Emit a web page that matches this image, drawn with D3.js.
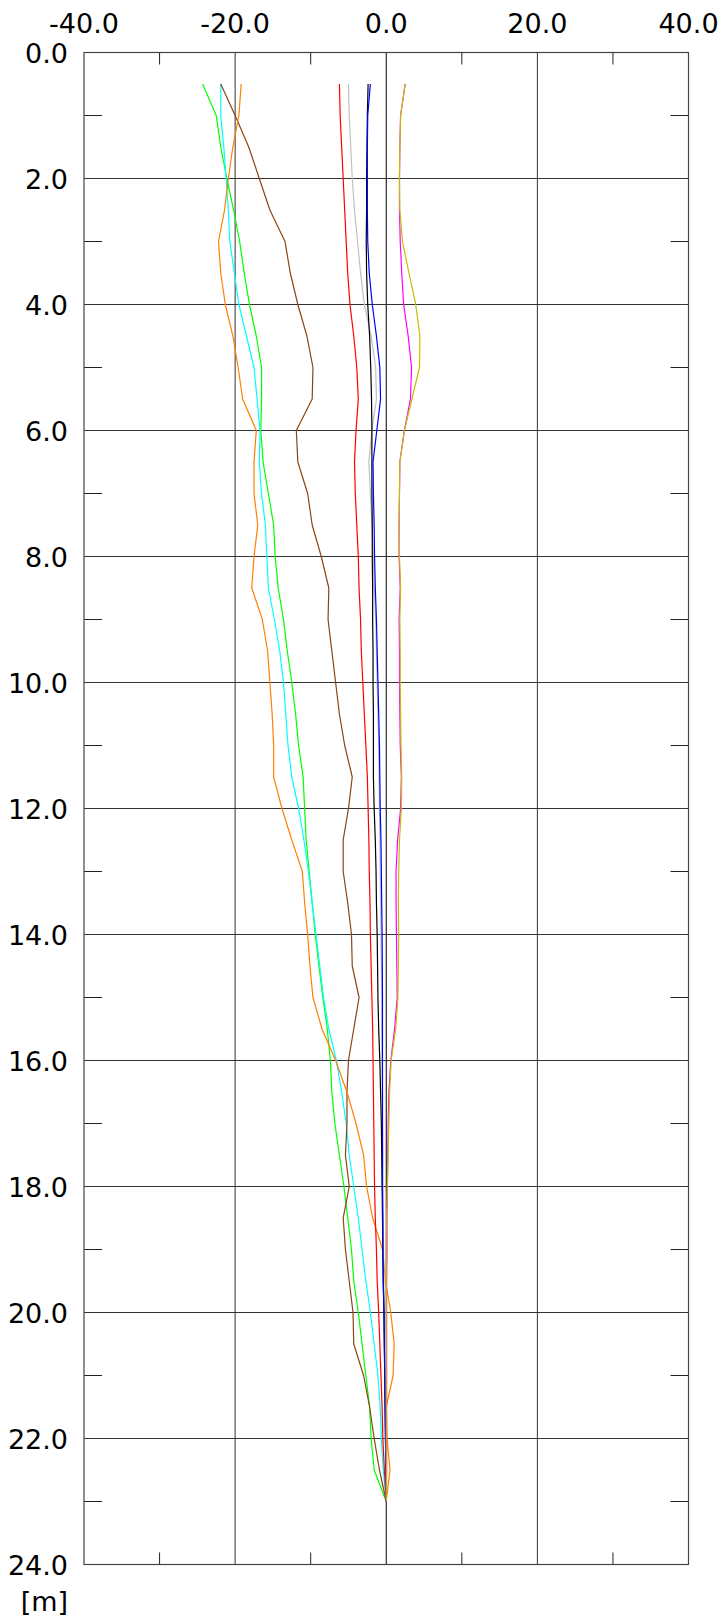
<!DOCTYPE html>
<html>
<head>
<meta charset="utf-8">
<script src="https://cdn.jsdelivr.net/npm/d3@7"></script>
<style>
  html, body { margin: 0; padding: 0; background: #fff; }
  svg { display: block; }
</style>
</head>
<body>
<svg id="chart" width="720" height="1619"></svg>
<script>
// ---- data ----
const depths = [0.5, 1.0, 1.5, 2.0, 2.5, 3.0, 3.5, 4.0, 4.5, 5.0, 5.5, 6.0, 6.5, 7.0, 7.5, 8.0,
  8.5, 9.0, 9.5, 10.0, 10.5, 11.0, 11.5, 12.0, 12.5, 13.0, 13.5, 14.0, 14.5, 15.0, 15.5, 16.0,
  16.5, 17.0, 17.5, 18.0, 18.5, 19.0, 19.5, 20.0, 20.5, 21.0, 21.5, 22.0, 22.5, 23.0];

const greenValues = [-24.3, -22.5, -21.9, -21.1, -20.2, -19.4, -18.8, -18.1, -17.2, -16.5, -16.5, -16.6,
  -16.3, -15.6, -14.9, -14.7, -14.3, -13.6, -13.1, -12.5, -12.0, -11.6, -11.0, -10.8, -10.6, -10.2,
  -9.8, -9.4, -8.9, -8.4, -7.8, -7.4, -7.2, -6.8, -6.2, -5.6, -5.1, -4.6, -4.3, -3.7, -3.2, -2.7,
  -2.2, -2.0, -1.6, 0.0];
const cyanValues = [-21.9, -21.9, -21.5, -21.2, -20.9, -20.7, -20.1, -19.5, -18.5, -17.5, -17.1, -16.7,
  -16.8, -16.5, -16.0, -15.8, -15.6, -14.8, -14.1, -13.6, -13.3, -13.0, -12.5, -11.6, -10.9, -10.3,
  -9.8, -9.3, -8.8, -8.3, -7.6, -6.6, -5.9, -5.3, -4.9, -4.3, -3.7, -3.2, -2.7, -2.1, -1.6, -1.1,
  -0.8, -0.65, -0.4, 0.0];
const brownValues = [-21.9, -20.0, -18.2, -16.8, -15.4, -13.4, -12.7, -11.7, -10.5, -9.7, -9.8, -11.9,
  -11.7, -10.4, -9.8, -8.6, -7.6, -7.7, -7.2, -6.7, -6.2, -5.5, -4.5, -5.0, -5.7, -5.7,
  -5.1, -4.6, -4.5, -3.6, -4.3, -5.0, -5.2, -5.2, -5.4, -4.9, -5.7, -5.4, -4.9, -4.4, -4.3, -3.0,
  -2.2, -1.6, -0.9, 0.0];
const orangeValues = [-19.2, -19.5, -20.3, -20.9, -21.4, -22.2, -21.9, -21.3, -20.3, -19.6, -19.0, -17.2,
  -17.5, -17.5, -17.0, -17.5, -17.8, -16.4, -15.7, -15.4, -15.1, -14.9, -14.9, -13.8, -12.5, -11.1,
  -10.8, -10.4, -10.1, -9.7, -8.5, -6.7, -5.2, -4.0, -3.0, -2.6, -1.8, -0.5, -0.1, 0.6, 1.05, 0.9,
  0.0, 0.1, 0.5, 0.0];
const redValues = [-6.2, -6.1, -5.9, -5.7, -5.5, -5.3, -5.1, -4.8, -4.3, -3.9, -3.7, -4.0,
  -4.2, -4.1, -3.9, -3.7, -3.6, -3.4, -3.3, -3.1, -2.9, -2.7, -2.5, -2.4, -2.3, -2.25,
  -2.15, -2.1, -2.0, -1.9, -1.8, -1.75, -1.7, -1.65, -1.6, -1.55, -1.45, -1.3, -1.2, -1.0, -0.85, -0.7,
  -0.55, -0.45, -0.25, 0.0];
const grayValues = [-5.0, -4.9, -4.7, -4.5, -4.2, -3.8, -3.4, -2.9, -2.0, -1.4, -1.3, -1.9,
  -2.3, -2.1, -1.9, -1.7, -1.6, -1.4, -1.3, -1.2, -1.1, -1.0, -0.95, -0.9, -0.85, -0.8,
  -0.75, -0.7, -0.65, -0.6, -0.6, -0.55, -0.5, -0.5, -0.45, -0.45, -0.4, -0.35, -0.3, -0.3, -0.25, -0.2,
  -0.15, -0.1, -0.05, 0.0];
const blackValues = [-2.4, -2.5, -2.55, -2.6, -2.6, -2.65, -2.6, -2.45, -2.2, -2.05, -1.95, -1.9,
  -1.9, -1.9, -1.85, -1.85, -1.8, -1.8, -1.75, -1.75, -1.7, -1.7, -1.7, -1.6, -1.45, -1.35,
  -1.3, -1.2, -1.15, -1.1, -1.0, -0.85, -0.75, -0.65, -0.6, -0.55, -0.5, -0.45, -0.4, -0.3, -0.25, -0.2,
  -0.15, -0.1, -0.05, 0.0];
const blueValues = [-2.1, -2.45, -2.5, -2.5, -2.5, -2.45, -2.25, -1.85, -1.3, -0.85, -0.75, -1.25,
  -1.75, -1.7, -1.6, -1.55, -1.45, -1.3, -1.2, -1.1, -1.0, -0.9, -0.85, -0.8, -0.7, -0.65,
  -0.6, -0.55, -0.52, -0.5, -0.5, -0.5, -0.5, -0.5, -0.5, -0.5, -0.45, -0.45, -0.4, -0.3, -0.25, -0.2,
  -0.15, -0.1, -0.05, 0.0];
const magentaValues = [2.5, 1.9, 1.8, 1.75, 1.75, 1.85, 2.05, 2.3, 2.9, 3.35, 3.2, 2.4,
  1.8, 1.75, 1.7, 1.7, 1.85, 1.7, 1.75, 1.75, 1.8, 1.85, 2.0, 1.9, 1.5, 1.3,
  1.3, 1.35, 1.4, 1.45, 1.1, 0.6, 0.35, 0.25, 0.2, 0.15, 0.1, 0.1, 0.05, 0.05, 0.05, 0.05,
  0.05, 0.05, 0.05, 0.0];
const yellowValues = [2.5, 1.9, 1.8, 1.75, 1.8, 2.15, 3.0, 3.9, 4.45, 4.4, 3.4, 2.4,
  1.8, 1.75, 1.7, 1.75, 1.9, 1.8, 1.85, 1.85, 1.9, 1.95, 2.05, 2.0, 1.75, 1.65,
  1.6, 1.65, 1.6, 1.55, 1.25, 0.65, 0.45, 0.35, 0.25, 0.15, 0.05, 0.0, 0.0, 0.0, 0.0, 0.0,
  0.0, 0.0, 0.0, 0.0];

const seriesNames = ["green", "cyan", "brown", "orange", "red", "gray", "black", "blue", "magenta", "yellow"];
const seriesColors = ["#00ff00", "#00ffff", "#8b4513", "#ff8000", "#ff0000", "#c0c0c0", "#000000", "#0000ff", "#ff00ff", "#c0c000"];
const seriesValues = [greenValues, cyanValues, brownValues, orangeValues, redValues, grayValues,
  blackValues, blueValues, magentaValues, yellowValues];

const xTickLabels = [-40, -20, 0, 20, 40];
const xMinorTicks = [-30, -10, 10, 30];
const yTickLabels = [0, 2, 4, 6, 8, 10, 12, 14, 16, 18, 20, 22, 24];
const yMinorTicks = [1, 3, 5, 7, 9, 11, 13, 15, 17, 19, 21, 23];
const yUnit = "[m]";

// ---- layout ----
const L = 84, R = 688.5, T = 52.5, B = 1564.5;
const x = d3.scaleLinear().domain([-40, 40]).range([L, R]);
const y = d3.scaleLinear().domain([0, 24]).range([T, B]);
const fmt = d3.formatLocale({ decimal: ".", thousands: ",", grouping: [3], currency: ["", ""], minus: "-" }).format(".1f");
const FONT = "DejaVu Sans, Verdana, sans-serif";

const svg = d3.select("#chart");

// grid
const grid = svg.append("g");
grid.selectAll("line.vg").data(xTickLabels.filter(v => v > -40 && v < 40)).join("line")
  .attr("x1", d => x(d)).attr("x2", d => x(d)).attr("y1", T).attr("y2", B)
  .attr("stroke", d => d === 0 ? "#000" : "#333").attr("stroke-width", 1);
grid.selectAll("line.hg").data(yTickLabels.filter(v => v > 0 && v < 24)).join("line")
  .attr("x1", L).attr("x2", R).attr("y1", d => y(d)).attr("y2", d => y(d))
  .attr("stroke", "#333").attr("stroke-width", 1);

// minor ticks
const ticks = svg.append("g").attr("stroke", "#222").attr("stroke-width", 1);
xMinorTicks.forEach(v => {
  ticks.append("line").attr("x1", x(v)).attr("x2", x(v)).attr("y1", T).attr("y2", T + 12);
  ticks.append("line").attr("x1", x(v)).attr("x2", x(v)).attr("y1", B).attr("y2", B - 12);
});
yMinorTicks.forEach(v => {
  ticks.append("line").attr("x1", L).attr("x2", L + 18).attr("y1", y(v)).attr("y2", y(v));
  ticks.append("line").attr("x1", R).attr("x2", R - 18).attr("y1", y(v)).attr("y2", y(v));
});

// series lines
const line = d3.line().x(d => x(d[1])).y(d => y(d[0]));
const lines = svg.append("g").attr("fill", "none");
seriesValues.forEach((vals, i) => {
  lines.append("path")
    .attr("d", line(depths.map((dp, j) => [dp, vals[j]])))
    .attr("stroke", seriesColors[i])
    .attr("stroke-width", 1.2)
    .attr("stroke-linejoin", "round")
    .attr("class", "series-" + seriesNames[i]);
});

// frame
svg.append("rect").attr("x", L).attr("y", T).attr("width", R - L).attr("height", B - T)
  .attr("fill", "none").attr("stroke", "#444").attr("stroke-width", 1.2);

// axis labels
svg.append("g").selectAll("text").data(xTickLabels).join("text")
  .attr("x", d => x(d)).attr("y", 33)
  .attr("text-anchor", "middle")
  .attr("font-family", FONT).attr("font-size", 27).attr("fill", "#000")
  .text(d => fmt(d));

svg.append("g").selectAll("text").data(yTickLabels).join("text")
  .attr("x", 68).attr("y", d => y(d) + 10)
  .attr("text-anchor", "end")
  .attr("font-family", FONT).attr("font-size", 27).attr("fill", "#000")
  .text(d => fmt(d));

svg.append("text").attr("x", 68).attr("y", 1611)
  .attr("text-anchor", "end")
  .attr("font-family", FONT).attr("font-size", 27).attr("fill", "#000")
  .text(yUnit);
</script>
</body>
</html>
